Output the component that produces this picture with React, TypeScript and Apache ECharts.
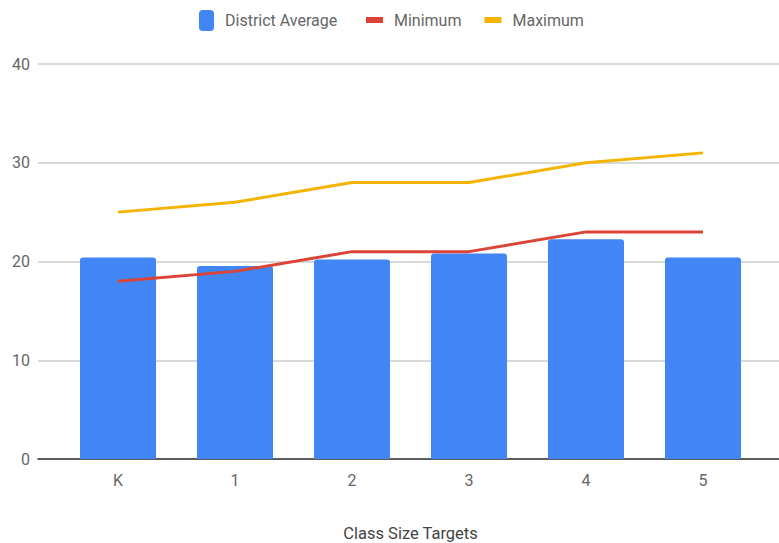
import React, { useEffect, useRef } from "react";
import * as echarts from "echarts";

const categories = ["K", "1", "2", "3", "4", "5"];
const districtAverage = [20.4, 19.55, 20.2, 20.8, 22.25, 20.4];
const minimum = [18, 19, 21, 21, 23, 23];
const maximum = [25, 26, 28, 28, 30, 31];
const yTicks = { min: 0, max: 40, interval: 10 };

const FONT = "Roboto";
const TEXT = "#666666";

export default function App() {
  const ref = useRef<HTMLDivElement>(null);
  useEffect(() => {
    if (!ref.current) return;
    const chart = echarts.init(ref.current, undefined, { renderer: "svg" });
    chart.setOption({
      animation: false,
      textStyle: { fontFamily: FONT },
      legend: [
        {
          data: [{ name: "District Average", icon: "roundRect" }],
          left: 199,
          top: 10,
          padding: 0,
          itemWidth: 15,
          itemHeight: 21,
          textStyle: { color: TEXT, fontSize: 16, fontFamily: FONT, padding: [0, 0, 0, 6] },
        },
        {
          data: [
            { name: "Minimum", icon: "rect" },
            { name: "Maximum", icon: "rect" },
          ],
          left: 366,
          top: 12,
          padding: 0,
          itemWidth: 17,
          itemHeight: 6,
          itemGap: 23,
          textStyle: { color: TEXT, fontSize: 16, fontFamily: FONT, padding: [0, 0, 0, 6] },
        },
      ],
      grid: [
        { left: 38, right: 0, top: 64, bottom: 84, outerBoundsMode: "none", containLabel: false },
        { left: 59.5, right: 17.5, top: 64, bottom: 84, outerBoundsMode: "none", containLabel: false },
      ],
      xAxis: [
        {
          gridIndex: 0,
          type: "value",
          min: 0,
          max: 1,
          axisLine: { show: true, lineStyle: { color: "#333333", width: 1.5 } },
          axisTick: { show: false },
          axisLabel: { show: false },
          splitLine: { show: false },
        },
        {
          gridIndex: 1,
          type: "category",
          data: categories,
          axisLine: { show: false },
          axisTick: { show: false },
          axisLabel: { color: TEXT, fontSize: 16, fontFamily: FONT, margin: 13 },
          name: "Class Size Targets",
          nameLocation: "middle",
          nameGap: 66,
          nameTextStyle: { color: "#444444", fontSize: 16.5, fontFamily: FONT, verticalAlign: "top" },
        },
      ],
      yAxis: [
        {
          gridIndex: 0,
          type: "value",
          min: yTicks.min,
          max: yTicks.max,
          interval: yTicks.interval,
          axisLine: { show: false },
          axisTick: { show: false },
          axisLabel: { color: TEXT, fontSize: 16, fontFamily: FONT, margin: 8 },
          splitLine: { show: true, lineStyle: { color: "#cccccc", width: 1.5 } },
        },
        {
          gridIndex: 1,
          type: "value",
          min: yTicks.min,
          max: yTicks.max,
          interval: yTicks.interval,
          show: false,
          splitLine: { show: false },
        },
      ],
      series: [
        {
          name: "District Average",
          type: "bar",
          xAxisIndex: 1,
          yAxisIndex: 1,
          data: districtAverage,
          barWidth: 76,
          itemStyle: { color: "#4285F4", borderRadius: [3, 3, 0, 0] },
        },
        {
          name: "Minimum",
          type: "line",
          xAxisIndex: 1,
          yAxisIndex: 1,
          data: minimum,
          showSymbol: false,
          symbol: "none",
          lineStyle: { color: "#DB4437", width: 3 },
          itemStyle: { color: "#DB4437" },
        },
        {
          name: "Maximum",
          type: "line",
          xAxisIndex: 1,
          yAxisIndex: 1,
          data: maximum,
          showSymbol: false,
          symbol: "none",
          lineStyle: { color: "#F4B400", width: 3 },
          itemStyle: { color: "#F4B400" },
        },
      ],
    });
    return () => chart.dispose();
  }, []);
  return <div ref={ref} style={{ width: 779, height: 543, position: "absolute", left: 0, top: 0 }} />;
}
